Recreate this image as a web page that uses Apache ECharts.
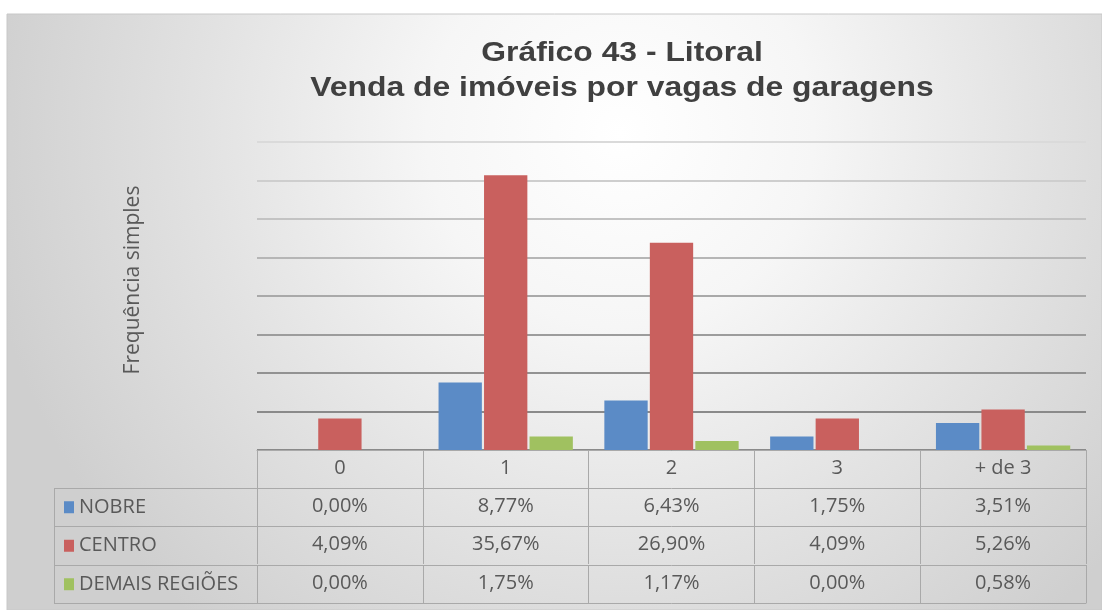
<!DOCTYPE html>
<html>
<head>
<meta charset="utf-8">
<script src="https://cdn.jsdelivr.net/npm/echarts@6/dist/echarts.min.js"></script>
<style>
  html, body { margin: 0; padding: 0; background: #fff; }
  #chart { width: 1102px; height: 610px; }
</style>
</head>
<body>
<div id="chart"></div>
<script>
// Vagas de garagem (categorias) e frequência simples (%) por região
const categories = ['0', '1', '2', '3', '+ de 3'];
const seriesNames = ['NOBRE', 'CENTRO', 'DEMAIS REGIÕES'];
const nobre = [0.00, 8.77, 6.43, 1.75, 3.51];
const centro = [4.09, 35.67, 26.90, 4.09, 5.26];
const demais = [0.00, 1.75, 1.17, 0.00, 0.58];
const yTicks = [0, 5, 10, 15, 20, 25, 30, 35, 40];

const titleText = 'Gráfico 43 - Litoral\nVenda de imóveis por vagas de garagens';
const axisTitle = 'Frequência simples';

const colors = ['#5b8bc6', '#c9605e', '#a0c160'];
const textColor = '#595959';
const tableLine = '#a9a9a9';

const fmt = v => v.toFixed(2).replace('.', ',') + '%';

// geometry of the plot / data table
const G = { left: 257, right: 16, top: 142, bottom: 160 };
const rowOffsets = [38, 76, 115];   // table rows below the header
const tableBottomOffset = 153;
const legendLeft = 54;

const chart = echarts.init(document.getElementById('chart'), null, { renderer: 'canvas' });

const tableFont = { fontFamily: 'Open Sans', fontSize: 20, color: textColor };

function rowAxis(offset, data, showLabel) {
  return {
    type: 'category',
    gridIndex: 0,
    position: 'bottom',
    offset: offset,
    data: data,
    axisLine: { show: true, lineStyle: { color: tableLine, width: 1 } },
    axisTick: { show: showLabel, interval: 0, length: 38, lineStyle: { color: tableLine, width: 1 } },
    axisLabel: Object.assign({ show: showLabel, interval: 0, margin: 8, lineHeight: 21 }, tableFont),
    splitLine: { show: false }
  };
}

const H = 610;
const lineY = off => H - G.bottom + off;

const legendBorders = [];
[rowOffsets[0], rowOffsets[1], rowOffsets[2], tableBottomOffset].forEach(off => {
  legendBorders.push({
    type: 'line', z: 10,
    shape: { x1: legendLeft, y1: lineY(off) + 0.5, x2: G.left, y2: lineY(off) + 0.5 },
    style: { stroke: tableLine, lineWidth: 1 }
  });
});
legendBorders.push({
  type: 'line', z: 10,
  shape: { x1: legendLeft + 0.5, y1: lineY(rowOffsets[0]), x2: legendLeft + 0.5, y2: lineY(tableBottomOffset) },
  style: { stroke: tableLine, lineWidth: 1 }
});

const option = {
  backgroundColor: '#ffffff',
  animation: false,
  legend: {
    orient: 'vertical',
    left: 64,
    top: lineY(rowOffsets[0]),
    padding: 0,
    itemGap: 0,
    itemWidth: 10,
    itemHeight: 12,
    icon: 'rect',
    selectedMode: false,
    data: seriesNames,
    textStyle: { fontFamily: 'Open Sans', fontSize: 20, color: textColor, lineHeight: 38.5 }
  },
  graphic: [
    {
      type: 'rect', z: -100, silent: true,
      shape: { x: 7, y: 14, width: 1095, height: 596 },
      style: {
        fill: new echarts.graphic.RadialGradient(0.56, 0.2, 1.08, [
          { offset: 0, color: '#ffffff' },
          { offset: 0.3, color: '#f6f6f6' },
          { offset: 0.65, color: '#e2e2e2' },
          { offset: 1, color: '#cfcfcf' }
        ]),
        stroke: '#c8c8c8',
        lineWidth: 1
      }
    },
    {
      // two-line chart title, slightly widened like the original typeface
      type: 'text', z: 10,
      x: 622, y: 36, scaleX: 1.18,
      style: {
        text: titleText,
        fontFamily: 'Liberation Sans', fontWeight: 'bold', fontSize: 27,
        lineHeight: 35, fill: '#404040',
        align: 'center', verticalAlign: 'top'
      }
    },
    {
      type: 'text', z: 10,
      x: 133, y: 280, rotation: Math.PI / 2,
      style: {
        text: axisTitle,
        fontFamily: 'Open Sans', fontSize: 21, fill: textColor,
        align: 'center', verticalAlign: 'middle'
      }
    }
  ].concat(legendBorders),
  grid: { left: G.left, right: G.right, top: G.top, bottom: G.bottom, containLabel: false },
  xAxis: [
    rowAxis(0, categories, true),
    rowAxis(rowOffsets[0], nobre.map(fmt), true),
    rowAxis(rowOffsets[1], centro.map(fmt), true),
    rowAxis(rowOffsets[2], demais.map(fmt), true),
    rowAxis(tableBottomOffset, categories.map(() => ''), false)
  ],
  yAxis: {
    type: 'value',
    min: yTicks[0],
    max: yTicks[yTicks.length - 1],
    interval: yTicks[1] - yTicks[0],
    axisLine: { show: false },
    axisTick: { show: false },
    axisLabel: { show: false },
    splitLine: {
      show: true,
      lineStyle: {
        width: 2,
        color: ['#8a8a8a', '#8a8a8a', '#929292', '#9c9c9c', '#a9a9a9', '#b6b6b6', '#c3c3c3', '#cecece', '#dadada']
      }
    }
  },
  series: [nobre, centro, demais].map((data, i) => ({
    name: seriesNames[i],
    type: 'bar',
    xAxisIndex: 0,
    data: data,
    barGap: '5%',
    barCategoryGap: '19%',
    itemStyle: { color: colors[i] }
  }))
};

chart.setOption(option);
</script>
</body>
</html>
